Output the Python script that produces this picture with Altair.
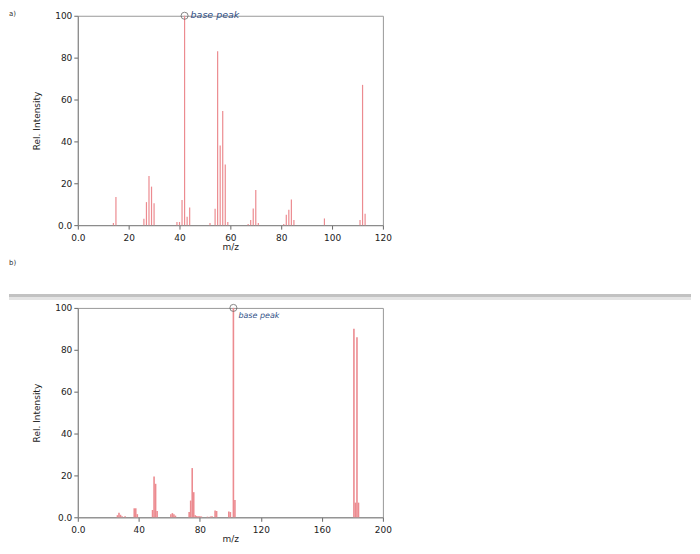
import altair as alt
import pandas as pd

# ---- Panel a) data (m/z, relative intensity) ----
a_mz = [14, 15, 26, 27, 28, 29, 30, 39, 40, 41, 42, 43, 44, 52, 54, 55, 56, 57, 58, 59,
        67, 68, 69, 70, 71, 81, 82, 83, 84, 85, 97, 111, 112, 113]
a_int = [1, 13.5, 3, 11, 23.5, 18.4, 10.5, 1.5, 1.5, 12, 100, 4, 8.4, 1, 7.8, 83, 38, 54.5, 29, 1.5,
         0.5, 2.5, 7.9, 16.8, 1, 0.5, 5, 7.3, 12.2, 2.5, 3.2, 2.5, 67, 5.4]

# ---- Panel b) data ----
b_mz = [26, 27, 28, 29, 31, 37, 38, 39, 49, 50, 51, 52, 61, 62, 63, 64, 73, 74, 75, 76, 77, 78,
        79, 80, 81, 85, 87, 88, 90, 91, 99, 100, 102, 103, 181, 182, 183, 184]
b_int = [1, 2.2, 1.2, 0.5, 0.5, 4.3, 4.3, 1.5, 3.5, 19.5, 16, 3, 1.5, 2, 1.5, 0.8, 2.5, 8, 23.5, 12, 1, 0.6,
         0.5, 0.5, 0.4, 0.3, 0.4, 0.5, 3.3, 3, 2.8, 2.5, 100, 8.3, 90, 7, 86, 7]

a_ticks_x = list(range(0, 121, 10))
b_ticks_x = list(range(0, 201, 10))
y_ticks = list(range(0, 101, 5))

BAR = "#ec8b90"
FONT = "DejaVu Sans"
ANN = "#2f4f86"


def x_axis(values, major):
    return alt.Axis(
        values=values,
        labelExpr=f"datum.value == 0 ? '0.0' : (datum.value % {major} == 0 ? datum.label : '')",
        tickSize={"condition": {"test": f"datum.value % {major} == 0", "value": 4}, "value": 2.5},
        labelOverlap=False, labelFlush=False, grid=False, titlePadding=0, labelPadding=4,
    )


def y_axis():
    return alt.Axis(
        values=y_ticks,
        labelExpr="datum.value == 0 ? '0.0' : (datum.value % 20 == 0 ? datum.label : '')",
        tickSize={"condition": {"test": "datum.value % 20 == 0", "value": 4}, "value": 2.5},
        labelOverlap=False, labelFlush=False, grid=False, titlePadding=13,
    )


def panel(mz, inten, maxx, ticks, major, sw, peak, dx, dy, fsize, tag, tag_y, extra=None):
    df = pd.DataFrame({"mz": mz, "int": inten})
    x = alt.X("mz:Q", scale=alt.Scale(domain=[0, maxx], nice=False, zero=False),
              axis=x_axis(ticks, major), title="m/z")
    y = alt.Y("int:Q", scale=alt.Scale(domain=[0, 100], nice=False),
              axis=y_axis(), title="Rel. Intensity")
    bars = alt.Chart(df).mark_rule(color=BAR, strokeWidth=sw).encode(x=x, y=y, y2=alt.datum(0))
    ann_df = pd.DataFrame({"mz": [peak], "int": [100], "label": ["base  peak"]})
    circ = alt.Chart(ann_df).mark_point(shape="circle", size=50, filled=False,
                                        color="#555", strokeWidth=1).encode(x="mz:Q", y="int:Q")
    txt = alt.Chart(ann_df).mark_text(align="left", baseline="middle", dx=dx, dy=dy,
                                      font=FONT, fontSize=fsize, color=ANN, fontStyle="italic").encode(
        x="mz:Q", y="int:Q", text="label:N")
    one = pd.DataFrame({"k": [0]})
    tag_m = alt.Chart(one).mark_text(text=tag, align="left", baseline="middle", fontSize=7,
                                     font=FONT, color="#333").encode(x=alt.value(-69), y=alt.value(tag_y))
    layers = []
    if extra:
        layers += extra
    layers += [bars, circ, txt, tag_m]
    return alt.layer(*layers).properties(width=306, height=210)


one = pd.DataFrame({"k": [0]})
sep1 = alt.Chart(one).mark_rect(color="#c2c2c2").encode(
    x=alt.value(-69), x2=alt.value(615), y=alt.value(-14), y2=alt.value(-11))
sep2 = alt.Chart(one).mark_rect(color="#e4e4e4").encode(
    x=alt.value(-69), x2=alt.value(615), y=alt.value(-11), y2=alt.value(-8))

pa = panel(a_mz, a_int, 120, a_ticks_x, 20, 1.2, 42, 6, -1, 9.5, "a)", -2)
pb = panel(b_mz, b_int, 200, b_ticks_x, 40, 1.6, 102, 5, 8, 8, "b)", -45, extra=[sep1, sep2])

chart = alt.vconcat(pa, pb, spacing=6).properties(padding=0).configure_view(
    stroke="#999", strokeWidth=1
).configure_axis(
    domainColor="#888", tickColor="#666", labelColor="#222", titleColor="#222",
    labelFont=FONT, titleFont=FONT, labelFontSize=9, titleFontSize=9,
    titleFontWeight="normal", labelPadding=2,
)

chart.save("out.html", embed_options={"renderer": "svg", "actions": False})
